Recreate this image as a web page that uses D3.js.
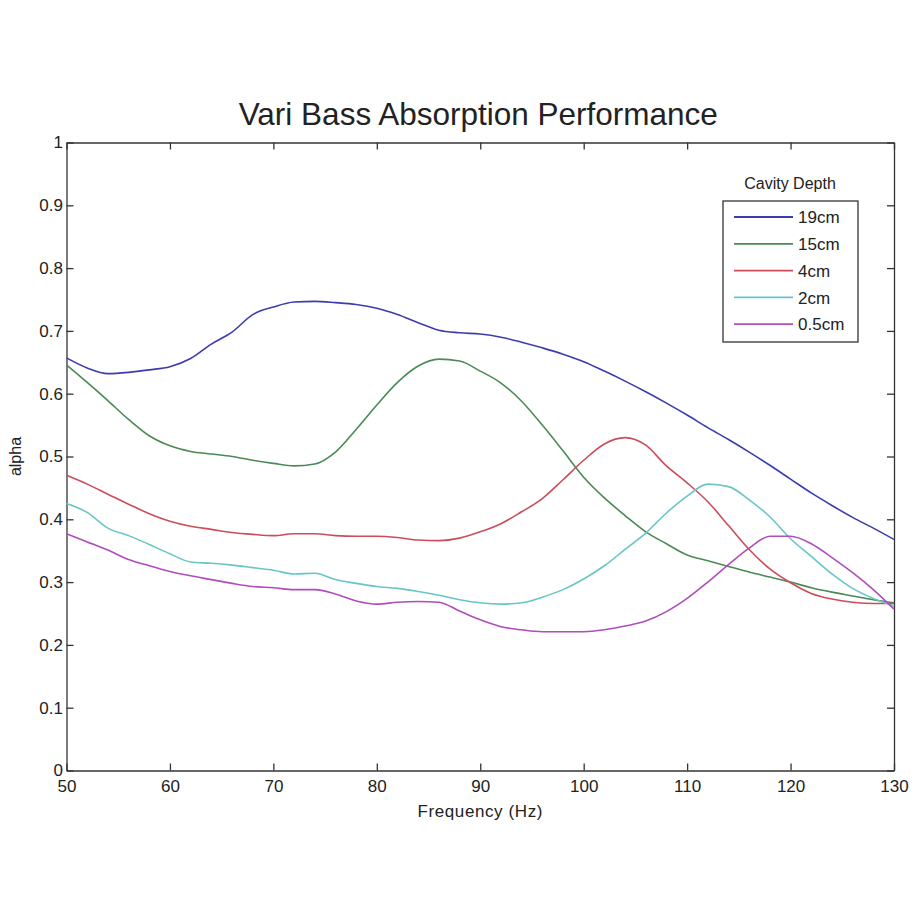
<!DOCTYPE html>
<html>
<head>
<meta charset="utf-8">
<script src="https://cdn.jsdelivr.net/npm/d3@7"></script>
<style>
  body { margin: 0; background: #fff; }
  svg text { font-family: "Liberation Sans", Arial, sans-serif; fill: #222; }
  .axis path, .axis line { stroke: #333; stroke-width: 1.3; }
</style>
</head>
<body>
<div id="chart"></div>
<script>
// frequency grid (Hz)
const freq = [50,52,54,56,58,60,62,64,66,68,70,72,74,76,78,80,82,84,86,88,90,
              92,94,96,98,100,102,104,106,108,110,112,114,116,118,120,122,124,126,128,130];

// absorption coefficient per cavity depth
const depth19 = [0.657,0.641,0.632,0.634,0.638,0.643,0.656,0.679,0.698,0.726,0.738,0.746,0.747,0.745,0.742,0.736,0.726,0.713,0.701,0.697,0.695,
                 0.690,0.682,0.673,0.663,0.651,0.636,0.620,0.603,0.585,0.566,0.546,0.527,0.507,0.486,0.464,0.442,0.422,0.403,0.386,0.368];
const depth15 = [0.646,0.618,0.589,0.559,0.533,0.517,0.508,0.504,0.500,0.494,0.489,0.485,0.488,0.507,0.543,0.582,0.618,0.644,0.655,0.652,0.636,
                 0.617,0.588,0.550,0.509,0.467,0.434,0.406,0.380,0.361,0.343,0.334,0.325,0.316,0.308,0.300,0.291,0.284,0.278,0.272,0.267];
const depth4  = [0.470,0.456,0.440,0.424,0.409,0.397,0.389,0.384,0.379,0.376,0.374,0.377,0.377,0.374,0.373,0.373,0.371,0.367,0.366,0.370,0.380,
                 0.393,0.412,0.433,0.463,0.494,0.520,0.530,0.518,0.485,0.458,0.428,0.390,0.352,0.321,0.299,0.282,0.273,0.268,0.266,0.266];
const depth2  = [0.425,0.411,0.386,0.374,0.360,0.345,0.332,0.330,0.327,0.323,0.319,0.313,0.314,0.304,0.298,0.293,0.290,0.285,0.279,0.272,0.267,
                 0.265,0.267,0.276,0.288,0.305,0.326,0.352,0.378,0.410,0.437,0.456,0.452,0.431,0.404,0.369,0.341,0.313,0.290,0.274,0.262];
const depth05 = [0.377,0.364,0.351,0.336,0.326,0.317,0.310,0.304,0.298,0.293,0.291,0.288,0.288,0.281,0.270,0.265,0.268,0.269,0.268,0.254,0.240,
                 0.229,0.224,0.221,0.221,0.221,0.224,0.230,0.238,0.253,0.274,0.300,0.328,0.354,0.373,0.373,0.361,0.339,0.315,0.288,0.257];

const seriesNames = ['19cm', '15cm', '4cm', '2cm', '0.5cm'];
const seriesValues = [depth19, depth15, depth4, depth2, depth05];
const seriesColors = ['#3c3cb0', '#4a8a56', '#cc4c5a', '#66c6c6', '#b04cbc'];

const xTicks = [50, 60, 70, 80, 90, 100, 110, 120, 130];
const yTicks = [0, 0.1, 0.2, 0.3, 0.4, 0.5, 0.6, 0.7, 0.8, 0.9, 1];

const width = 920, height = 920;
const margin = { top: 142.5, right: 26, bottom: 149.5, left: 66.5 };
const plotW = width - margin.left - margin.right;
const plotH = height - margin.top - margin.bottom;

const svg = d3.select('#chart').append('svg')
    .attr('width', width).attr('height', height);

const g = svg.append('g')
    .attr('transform', `translate(${margin.left},${margin.top})`);

const x = d3.scaleLinear().domain([50, 130]).range([0, plotW]);
const y = d3.scaleLinear().domain([0, 1]).range([plotH, 0]);

const fmt = d => d3.format('~g')(d);

// axes: ticks point inward on all four sides
g.append('g').attr('class', 'axis')
    .attr('transform', `translate(0,${plotH})`)
    .call(d3.axisBottom(x).tickValues(xTicks).tickFormat(fmt).tickSizeInner(-7).tickSizeOuter(0).tickPadding(9))
    .call(a => a.selectAll('text').style('font-size', '17px'));
g.append('g').attr('class', 'axis')
    .call(d3.axisTop(x).tickValues(xTicks).tickFormat('').tickSizeInner(-7).tickSizeOuter(0));
g.append('g').attr('class', 'axis')
    .call(d3.axisLeft(y).tickValues(yTicks).tickFormat(fmt).tickSizeInner(-7).tickSizeOuter(0).tickPadding(3.5))
    .call(a => a.selectAll('text').style('font-size', '17px'));
g.append('g').attr('class', 'axis')
    .attr('transform', `translate(${plotW},0)`)
    .call(d3.axisRight(y).tickValues(yTicks).tickFormat('').tickSizeInner(-7).tickSizeOuter(0));
g.selectAll('.axis text').attr('fill', '#222');

// lines
const line = d3.line()
    .x((d, i) => x(freq[i]))
    .y(d => y(d))
    .curve(d3.curveMonotoneX);

g.append('g').selectAll('path')
    .data(seriesValues)
    .join('path')
    .attr('d', line)
    .attr('fill', 'none')
    .attr('stroke', (d, i) => seriesColors[i])
    .attr('stroke-width', 1.6);

// title and axis labels
svg.append('text')
    .attr('x', margin.left + plotW / 2 - 2).attr('y', 125)
    .attr('text-anchor', 'middle')
    .style('font-size', '31.5px')
    .text('Vari Bass Absorption Performance');

svg.append('text')
    .attr('x', margin.left + plotW / 2).attr('y', 817)
    .attr('text-anchor', 'middle')
    .style('font-size', '17px').style('letter-spacing', '0.6px')
    .text('Frequency (Hz)');

svg.append('text')
    .attr('transform', `translate(21,${margin.top + plotH / 2}) rotate(-90)`)
    .attr('text-anchor', 'middle')
    .style('font-size', '16px')
    .text('alpha');

// legend
const legend = svg.append('g').attr('transform', 'translate(723,201)');
svg.append('text')
    .attr('x', 790).attr('y', 189)
    .attr('text-anchor', 'middle')
    .style('font-size', '16px')
    .text('Cavity Depth');
legend.append('rect')
    .attr('width', 135).attr('height', 141)
    .attr('fill', '#fff').attr('stroke', '#333').attr('stroke-width', 1.3);
const item = legend.selectAll('.item')
    .data(seriesNames)
    .join('g').attr('class', 'item')
    .attr('transform', (d, i) => `translate(0,${16 + i * 26.8})`);
item.append('line')
    .attr('x1', 11).attr('x2', 70)
    .attr('stroke', (d, i) => seriesColors[i]).attr('stroke-width', 1.8);
item.append('text')
    .attr('x', 75).attr('dy', '0.36em')
    .style('font-size', '17px')
    .text(d => d);
</script>
</body>
</html>
